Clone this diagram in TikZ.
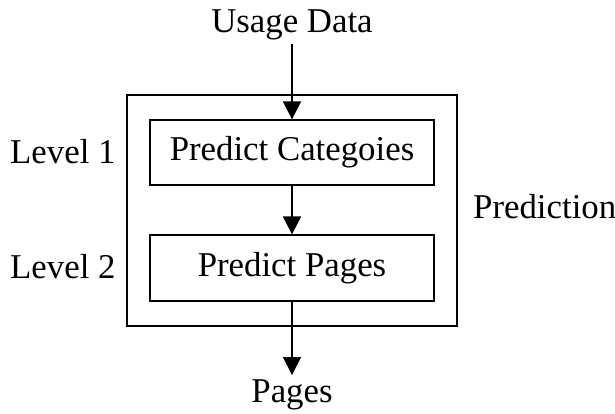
\documentclass[tikz,border=0pt]{standalone}
\usepackage{fontspec}
\setmainfont{Liberation Serif}
\usetikzlibrary{arrows.meta}

\tikzset{
  box/.style={draw,line width=1.3pt,minimum width=284pt,inner sep=0pt},
  txt/.style={inner sep=4pt},
  flow/.style={line width=1.8pt,-{Triangle[width=18pt,length=18pt]}}
}

\begin{document}
\begin{tikzpicture}[x=1pt,y=-1pt,font=\fontsize{34.8}{40}\selectfont]
   \useasboundingbox (0,0) rectangle (615,413);
   % outer frame
   \node[box,minimum width=330pt,minimum height=231pt] (pred) at (292,210.5) {};
   \node[box,minimum height=65pt] (cat) at (292,152.5) {Predict Categoies};
   \node[box,minimum height=66pt] (pag) at (292,268) {Predict Pages};
   % labels
   \node[txt,anchor=base] (usage) at (292,32) {Usage Data};
   \node[txt,anchor=base] (pages) at (292,402) {Pages};
   \node[txt,anchor=base west] (lvla) at (6,163) {Level 1};
   \node[txt,anchor=base west] (lvlb) at (6,278) {Level 2};
   \node[txt,anchor=base west] (plab) at (469,218) {Prediction};
   % arrows
   \draw[flow] (usage) -- (cat);
   \draw[flow] (cat) -- (pag);
   \draw[flow] (pag) -- (pages);
\end{tikzpicture}
\end{document}
